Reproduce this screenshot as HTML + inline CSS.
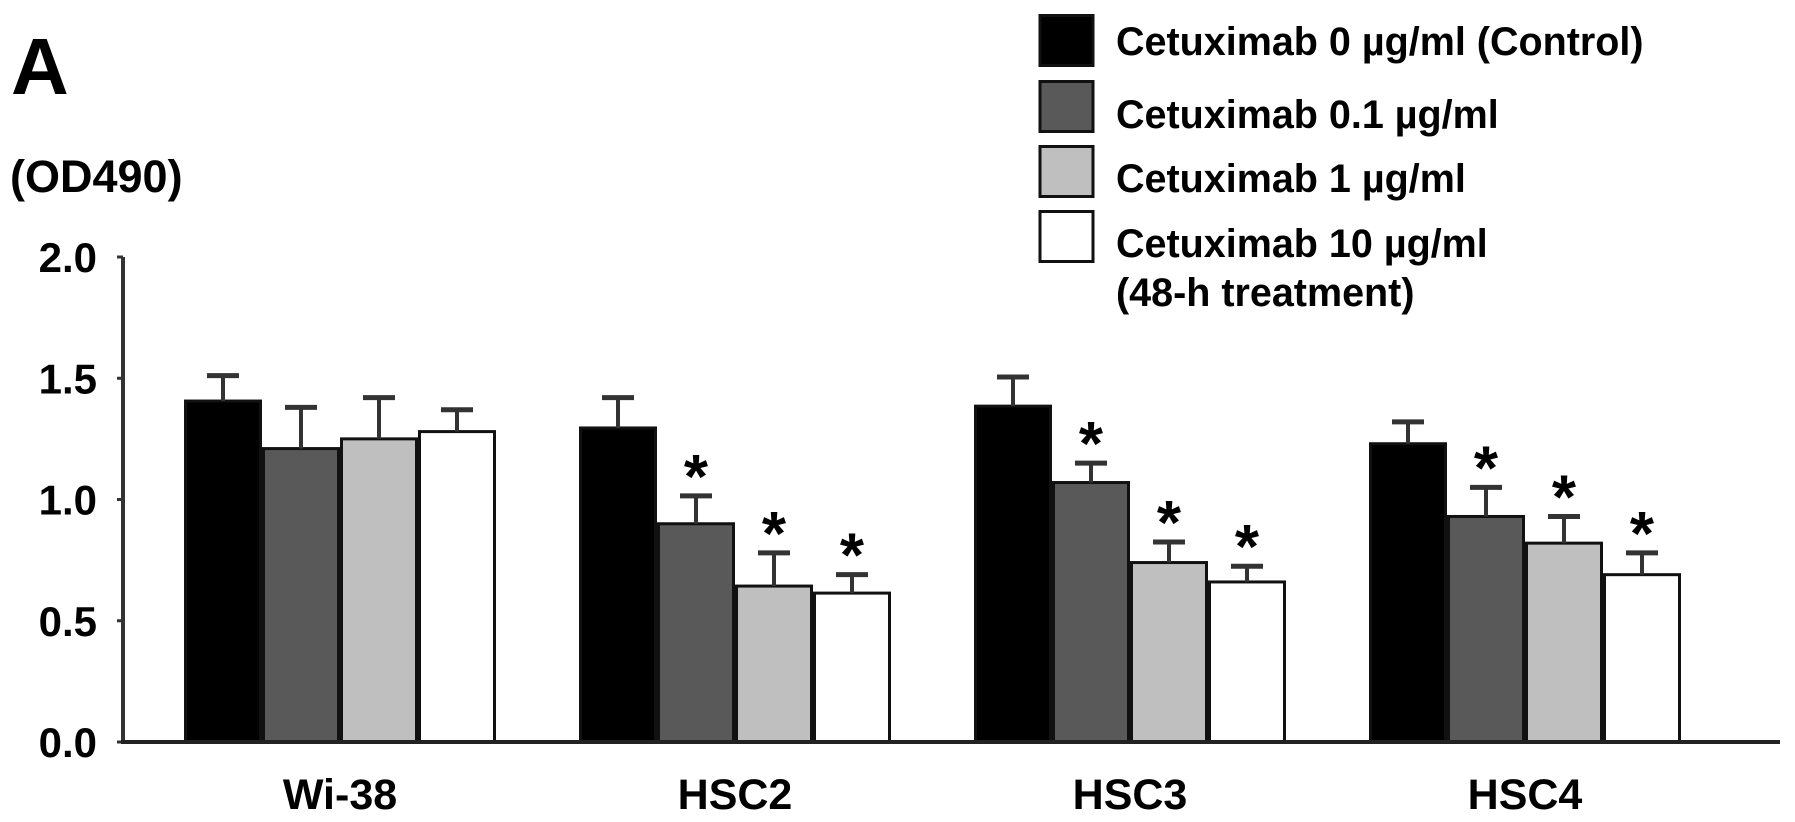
<!DOCTYPE html>
<html><head><meta charset="utf-8">
<style>
html,body{margin:0;padding:0;background:#fff;}
svg{display:block;font-family:"Liberation Sans",Arial,sans-serif;font-weight:bold;}
</style></head>
<body>
<svg id="chart" width="1795" height="822" viewBox="0 0 1795 822" xmlns="http://www.w3.org/2000/svg">
<text x="11" y="94" font-size="80">A</text>
<text x="10" y="192" font-size="45">(OD490)</text>
<g id="legend"></g>
<g id="plot"></g>
</svg>
<script>
const categories = ["Wi-38","HSC2","HSC3","HSC4"];
const seriesNames = ["Cetuximab 0 µg/ml (Control)","Cetuximab 0.1 µg/ml","Cetuximab 1 µg/ml","Cetuximab 10 µg/ml"];
const control = [1.406,1.295,1.385,1.23];
const dose01 = [1.21,0.90,1.07,0.93];
const dose1 = [1.25,0.643,0.74,0.82];
const dose10 = [1.28,0.614,0.66,0.69];
const errControl = [0.105,0.125,0.12,0.09];
const errDose01 = [0.17,0.115,0.08,0.12];
const errDose1 = [0.17,0.137,0.085,0.11];
const errDose10 = [0.09,0.076,0.065,0.09];
const significant = [[false,false,false,false],[false,true,true,true],[false,true,true,true],[false,true,true,true]];
const yTicks = [0,0.5,1.0,1.5,2.0];
const yTickLabels = ["0.0","0.5","1.0","1.5","2.0"];

const values=[control,dose01,dose1,dose10];
const errs=[errControl,errDose01,errDose1,errDose10];
const fills=["#000","#595959","#bfbfbf","#fff"];
const NS="http://www.w3.org/2000/svg";
const plot=document.getElementById('plot');
const legend=document.getElementById('legend');
function el(tag,attrs,parent){const e=document.createElementNS(NS,tag);for(const k in attrs)e.setAttribute(k,attrs[k]);(parent||plot).appendChild(e);return e;}
const y0=742, yTop=257, yMax=2.0;
function yScale(v){return y0-(v/yMax)*(y0-yTop);}
const groupStart0=184, groupStep=395, barW=78;
function xBar(ci,si){return groupStart0+ci*groupStep+si*barW;}

let ax=el('line',{x1:123,y1:yTop,x2:123,y2:y0,stroke:'#333','stroke-width':4});


yTicks.forEach((t,i)=>{
  const y=yScale(t);
  const tk=el('line',{x1:117,y1:y,x2:123,y2:y,stroke:'#333','stroke-width':3});
  
  
  const tx=el('text',{x:97,y:y+15,'font-size':42,'text-anchor':'end'});
  tx.textContent=yTickLabels[i];
  
  
});

categories.forEach((c,ci)=>{
  values.forEach((ser,si)=>{
    const x=xBar(ci,si), yv=yScale(ser[ci]);
    const r=el('rect',{x:x+1.5,y:yv,width:barW-3,height:y0-yv,fill:fills[si],stroke:'#111','stroke-width':3});
    
    
    const ye=yScale(ser[ci]+errs[si][ci]), cx=x+barW/2;
    const ev=el('line',{x1:cx,y1:yv,x2:cx,y2:ye,stroke:'#333','stroke-width':4});
    
    
    const ec=el('line',{x1:cx-16,y1:ye,x2:cx+16,y2:ye,stroke:'#333','stroke-width':5});
    
    
    if(significant[ci][si]){
      const a=el('text',{x:cx,y:ye+2,'font-size':62,'text-anchor':'middle'});
      a.textContent='*';
      
      
    }
  });
  const lab=el('text',{x:groupStart0+ci*groupStep+2*barW,y:809,'font-size':43,'text-anchor':'middle'});
  lab.textContent=c;
  
  
});
let xa=el('line',{x1:121,y1:y0,x2:1780,y2:y0,stroke:'#222','stroke-width':4});



const legTops=[14,80,145,210];
const legBase=[55,128,192,257];
seriesNames.forEach((n,i)=>{
  const r=el('rect',{x:1040,y:legTops[i]+1.5,width:53,height:50,fill:fills[i],stroke:'#111','stroke-width':3},legend);
  
  
  const t=el('text',{x:1116,y:legBase[i],'font-size':39.5},legend);
  t.textContent=n;
  
  
});
const t5=el('text',{x:1116,y:306,'font-size':39.5},legend);
t5.textContent='(48-h treatment)';


</script>
</body></html>
